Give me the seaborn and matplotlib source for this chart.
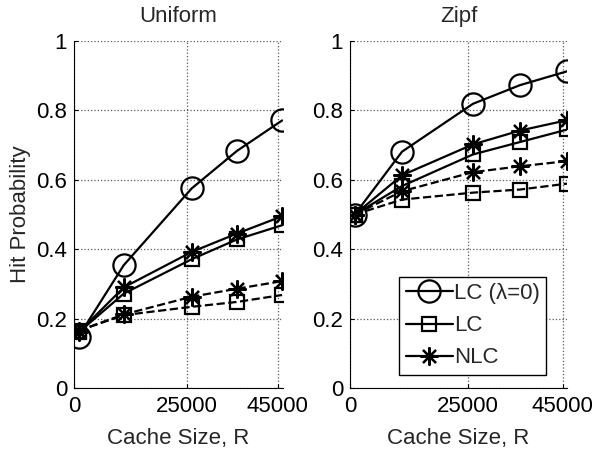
import matplotlib
matplotlib.use("Agg")
import matplotlib.pyplot as plt
import seaborn as sns
import pandas as pd
from matplotlib.lines import Line2D

# ---- data ----
cache_size = [1000, 11000, 26000, 36000, 46000]

uni_lc0 = [0.148, 0.354, 0.575, 0.683, 0.771]
uni_lc = [0.160, 0.272, 0.371, 0.428, 0.469]
uni_nlc = [0.160, 0.290, 0.392, 0.445, 0.495]
uni_lc_dash = [0.165, 0.210, 0.234, 0.248, 0.268]
uni_nlc_dash = [0.165, 0.212, 0.263, 0.286, 0.308]

zipf_lc0 = [0.500, 0.681, 0.819, 0.873, 0.913]
zipf_lc = [0.500, 0.582, 0.673, 0.709, 0.745]
zipf_nlc = [0.500, 0.613, 0.702, 0.742, 0.772]
zipf_lc_dash = [0.500, 0.543, 0.563, 0.572, 0.589]
zipf_nlc_dash = [0.500, 0.567, 0.622, 0.639, 0.654]

panel_titles = ["Uniform", "Zipf"]
x_ticks = [0, 25000, 45000]
y_ticks = [0, 0.2, 0.4, 0.6, 0.8, 1.0]
y_tick_labels = ["0", "0.2", "0.4", "0.6", "0.8", "1"]
legend_labels = ["LC (\u03bb=0)", "LC", "NLC"]

series_names = ["LC0", "LC", "NLC", "LC_dash", "NLC_dash"]
panels = {
    "Uniform": [uni_lc0, uni_lc, uni_nlc, uni_lc_dash, uni_nlc_dash],
    "Zipf": [zipf_lc0, zipf_lc, zipf_nlc, zipf_lc_dash, zipf_nlc_dash],
}

rows = []
for dist, lists in panels.items():
    for name, vals in zip(series_names, lists):
        for x, y in zip(cache_size, vals):
            rows.append({"dist": dist, "series": name, "cache": x, "hit": y})
df = pd.DataFrame(rows)

# ---- style ----
sns.set_style("ticks")
plt.rcParams["font.family"] = ["Liberation Sans", "DejaVu Sans"]
plt.rcParams["font.size"] = 16

star = (8, 2, 0)
styles = {
    "LC0": dict(marker="o", ms=16, ls="-"),
    "LC": dict(marker="s", ms=10, ls="-"),
    "NLC": dict(marker=star, ms=13, ls="-"),
    "LC_dash": dict(marker="s", ms=10, ls="--"),
    "NLC_dash": dict(marker=star, ms=13, ls="--"),
}

fig = plt.figure(figsize=(5.94, 4.51), dpi=100)
W, H = 594, 451
axes_px = [(74, 283), (350, 567)]
xmax = [46200, 45900]
bottom = 1 - 388 / H
top = 1 - 41 / H

for i, dist in enumerate(panel_titles):
    l, r = axes_px[i]
    ax = fig.add_axes([l / W, bottom, (r - l) / W, top - bottom])
    sub = df[df["dist"] == dist]
    for name in series_names:
        d = sub[sub["series"] == name]
        st = styles[name]
        sns.lineplot(data=d, x="cache", y="hit", ax=ax, color="black",
                     lw=1.6, linestyle=st["ls"], marker=st["marker"],
                     markersize=st["ms"], markerfacecolor="none",
                     markeredgecolor="black", markeredgewidth=1.6,
                     legend=False, zorder=3)
    ax.set_xlim(0, xmax[i])
    ax.set_ylim(0, 1)
    ax.set_xticks(x_ticks)
    ax.set_xticklabels([str(t) for t in x_ticks])
    ax.set_yticks(y_ticks)
    ax.set_yticklabels(y_tick_labels)
    ax.grid(True, linestyle=":", color="0.35", lw=0.9)
    ax.set_axisbelow(True)
    for s in ["top", "right"]:
        ax.spines[s].set_visible(False)
    for s in ["left", "bottom"]:
        ax.spines[s].set_color("black")
        ax.spines[s].set_linewidth(0.8)
    ax.tick_params(direction="in", length=3, labelsize=16, colors="black")
    ax.tick_params(axis="x", pad=6)
    ax.tick_params(axis="y", pad=5)
    ax.set_title(dist, fontsize=16, pad=14)
    ax.set_xlabel("Cache Size, R", fontsize=16, labelpad=8)
    if i == 0:
        ax.set_ylabel("Hit Probability", fontsize=16, labelpad=4)
    else:
        ax.set_ylabel("")
        handles = []
        for name, lab in zip(["LC0", "LC", "NLC"], legend_labels):
            st = styles[name]
            handles.append(Line2D([], [], color="black", lw=1.6, marker=st["marker"],
                                  markersize=st["ms"], markerfacecolor="none",
                                  markeredgecolor="black", markeredgewidth=1.6,
                                  label=lab))
        leg = ax.legend(handles=handles, loc="lower right",
                        bbox_to_anchor=(0.905, 0.037), fontsize=16,
                        frameon=True, fancybox=False, edgecolor="black",
                        framealpha=1, handlelength=2.1, handletextpad=0.05,
                        borderpad=0.3, labelspacing=0.5, borderaxespad=0)
        leg.get_frame().set_linewidth(1.0)

fig.savefig("out.png", dpi=100)
